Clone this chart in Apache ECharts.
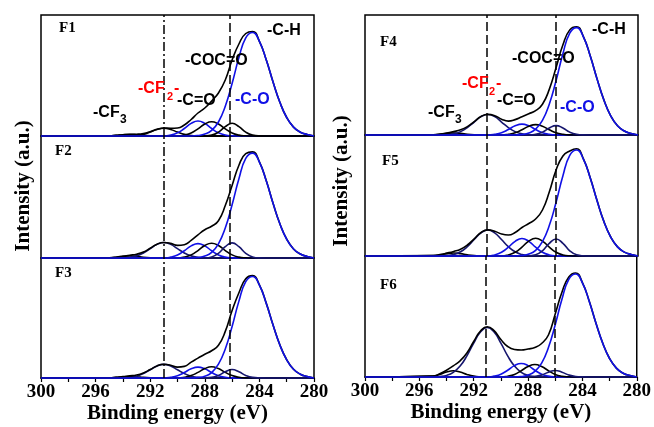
<!DOCTYPE html>
<html><head><meta charset="utf-8">
<script src="https://cdn.jsdelivr.net/npm/echarts@6/dist/echarts.min.js"></script>
<style>html,body{margin:0;padding:0;background:#fff}#c{width:654px;height:427px}</style>
</head><body><div id="c"></div>
<script>
// Binding energy grid (eV)
const energy = [300,295,294.5,294,293.5,293,292.5,292,291.5,291,290.5,290,289.5,289,288.5,288,287.5,287,286.5,286,285.5,285,284.5,284,283.5,283,282.5,282,281.5,281,280.5,280];
const xTicks = [300,296,292,288,284,280];
const panelNames = ['F1','F2','F3','F4','F5','F6'];
const leftRefLines = [291, 286.2];
const rightRefLines = [291.1, 286.0];

// F1
const f1Env = [0,0.2,0.6,1.2,1.6,1.8,2.5,4.3,6.7,8, 7.8,8,11,16.5,23,28,35,43,56,76, 92,102.5,104.5,94.7,76.2,54,33.7,18.5,8.9,3.8, 1.5,0];
const f1CF3 = [0,0.2,0.6,1.2,1.5,1.2,0.6,0.2,0,0, 0,0,0,0,0,0,0,0,0,0, 0,0,0,0,0,0,0,0,0,0, 0,0];
const f1CF2 = [0,0,0,0,0,0.5,1.6,3.9,6.5,7.7, 6.5,3.9,1.6,0.5,0.1,0,0,0,0,0, 0,0,0,0,0,0,0,0,0,0, 0,0];
const f1COC = [0,0,0,0,0,0,0,0,0,0, 0.9,3.2,7.5,12.6,15,12.6,7.5,3.2,0.9,0.2, 0,0,0,0,0,0,0,0,0,0, 0,0];
const f1CdO = [0,0,0,0,0,0,0,0,0,0, 0,0,0.9,3.0,7.2,12.0,14.3,12.0,7.2,3.0, 0.9,0.2,0,0,0,0,0,0,0,0, 0,0];
const f1CO  = [0,0,0,0,0,0,0,0,0,0, 0,0,0,0,0,0.1,0.9,3.9,9.4,12.7, 9.4,3.9,0.9,0.1,0,0,0,0,0,0, 0,0];
const f1CH  = [0,0,0,0,0,0,0,0,0,0, 0,0,0,0,0.5,1.9,5.6,14.0,29.7,52.5, 78.4,98.2,103.5,94.7,76.2,54.0,33.7,18.5,8.9,3.8, 1.5,0];
// F2
const f2Env = [0,0.3,0.8,1.8,2.8,3.8,5.9,9.7,13.7,15.4, 14.5,12.5,13.2,17.5,23,28,31.5,37,52,72, 92,103.5,105.3,95.3,76.8,54.3,34,18.7,9,3.9, 1.5,0];
const f2CF3 = [0,0.3,0.8,1.6,2,1.6,0.8,0.3,0.1,0, 0,0,0,0,0,0,0,0,0,0, 0,0,0,0,0,0,0,0,0,0, 0,0];
const f2CF2 = [0,0,0,0.2,0.7,2.1,5.0,9.3,13.5,15.3, 13.5,9.3,5.0,2.1,0.7,0.2,0,0,0,0, 0,0,0,0,0,0,0,0,0,0, 0,0];
const f2COC = [0,0,0,0,0,0,0,0,0,0, 0.9,3.0,7.2,12.0,14.3,12.0,7.2,3.0,0.9,0.2, 0,0,0,0,0,0,0,0,0,0, 0,0];
const f2CdO = [0,0,0,0,0,0,0,0,0,0, 0,0,0.9,3.1,7.4,12.4,14.7,12.4,7.4,3.1, 0.9,0.2,0,0,0,0,0,0,0,0, 0,0];
const f2CO  = [0,0,0,0,0,0,0,0,0,0, 0,0,0,0,0,0.1,1.1,4.6,11.2,15, 11.2,4.6,1.1,0.1,0,0,0,0,0,0, 0,0];
const f2CH  = [0,0,0,0,0,0,0,0,0,0, 0,0,0,0,0.5,1.9,5.6,14.1,29.8,52.8, 78.7,98.7,104.0,95.1,76.6,54.2,33.9,18.6,9.0,3.9, 1.5,0];
// F3
const f3Env = [0,0.2,0.6,1.4,2.1,3.0,5.1,8.5,12.2,13.8, 12.8,11,11.7,16,20,24,27.5,33,47,68, 86,100,103.2,93.8,75.5,53.5,33.4,18.4,8.8,3.8, 1.4,0];
const f3CF3 = [0,0.2,0.6,1.2,1.5,1.2,0.6,0.2,0,0, 0,0,0,0,0,0,0,0,0,0, 0,0,0,0,0,0,0,0,0,0, 0,0];
const f3CF2 = [0,0,0,0.2,0.6,1.8,4.5,8.3,12.1,13.7, 12.1,8.3,4.5,1.8,0.6,0.2,0,0,0,0, 0,0,0,0,0,0,0,0,0,0, 0,0];
const f3COC = [0,0,0,0,0,0,0,0,0,0, 0.7,2.3,5.5,9.3,11,9.3,5.5,2.3,0.7,0.1, 0,0,0,0,0,0,0,0,0,0, 0,0];
const f3CdO = [0,0,0,0,0,0,0,0,0,0, 0,0,0.7,2.4,5.7,9.5,11.3,9.5,5.7,2.4, 0.7,0.1,0,0,0,0,0,0,0,0, 0,0];
const f3CO  = [0,0,0,0,0,0,0,0,0,0, 0,0,0,0,0,0.1,0.6,2.6,6.3,8.5, 6.3,2.6,0.6,0.1,0,0,0,0,0,0, 0,0];
const f3CH  = [0,0,0,0,0,0,0,0,0,0, 0,0,0,0,0.5,1.8,5.5,13.9,29.3,51.9, 77.5,97.1,102.3,93.6,75.3,53.4,33.3,18.3,8.8,3.8, 1.4,0];
// F4
const f4Env = [0,0.3,0.9,2.1,3.4,5.2,8.5,13.5,18.7,20.8, 19.5,16,14,15.5,18.5,21.5,24.5,31,46,68, 91,106,109.2,99.2,79.8,56.6,35.4,19.4,9.3,4.0, 1.5,0];
const f4CF3 = [0,0.3,0.8,1.6,2,1.6,0.8,0.3,0.1,0, 0,0,0,0,0,0,0,0,0,0, 0,0,0,0,0,0,0,0,0,0, 0,0];
const f4CF2 = [0,0,0.1,0.4,1.2,3.4,7.5,13.1,18.5,20.7, 18.5,13.1,7.5,3.4,1.2,0.4,0.1,0,0,0, 0,0,0,0,0,0,0,0,0,0, 0,0];
const f4COC = [0,0,0,0,0,0,0,0,0,0, 0.7,2.3,5.5,9.3,11,9.3,5.5,2.3,0.7,0.1, 0,0,0,0,0,0,0,0,0,0, 0,0];
const f4CdO = [0,0,0,0,0,0,0,0,0,0, 0,0,0.7,2.2,5.3,8.8,10.5,8.8,5.3,2.2, 0.7,0.1,0,0,0,0,0,0,0,0, 0,0];
const f4CO  = [0,0,0,0,0,0,0,0,0,0, 0,0,0,0,0,0.1,0.7,2.9,7.1,9.5, 7.1,2.9,0.7,0.1,0,0,0,0,0,0, 0,0];
const f4CH  = [0,0,0,0,0,0,0,0,0,0, 0,0,0,0,0.5,2.0,5.9,14.7,31.1,55.0, 82.0,102.7,108.3,99.0,79.7,56.5,35.3,19.3,9.3,4.0, 1.5,0];
// F5
const f5Env = [0,0.5,1.4,2.9,4.6,6.8,11,17.2,23.5,26.1, 24.8,22,21,23.5,28.5,32.5,37,46,64,86, 100,105,107.2,97.1,78.2,55.4,34.6,19,9.1,3.9, 1.5,0];
const f5CF3 = [0,0.4,1.2,2.4,3,2.4,1.2,0.4,0.1,0, 0,0,0,0,0,0,0,0,0,0, 0,0,0,0,0,0,0,0,0,0, 0,0];
const f5CF2 = [0,0,0.1,0.4,1.5,4.2,9.4,16.5,23.2,26, 23.2,16.5,9.4,4.2,1.5,0.4,0.1,0,0,0, 0,0,0,0,0,0,0,0,0,0, 0,0];
const f5COC = [0,0,0,0,0,0,0,0,0,0, 1.1,3.7,8.8,14.7,17.5,14.7,8.8,3.7,1.1,0.2, 0,0,0,0,0,0,0,0,0,0, 0,0];
const f5CdO = [0,0,0,0,0,0,0,0,0,0, 0,0,1.1,3.7,8.9,14.9,17.7,14.9,8.9,3.7, 1.1,0.2,0,0,0,0,0,0,0,0, 0,0];
const f5CO  = [0,0,0,0,0,0,0,0,0,0, 0,0,0,0,0,0.2,1.2,5.2,12.6,17, 12.6,5.2,1.2,0.2,0,0,0,0,0,0, 0,0];
const f5CH  = [0,0,0,0,0,0,0,0,0,0, 0,0,0,0,0.5,1.9,5.7,14.4,30.4,53.8, 80.3,100.6,106.0,96.9,78.0,55.3,34.5,18.9,9.1,3.9, 1.5,0];
// F6
const f6Env = [0,1.0,3.2,6.8,11.2,16.2,24,35.5,46,50.3, 46.3,37.5,30.5,27.5,27,28,29.5,33.5,42,63, 85,100,104,94.4,76,53.8,33.7,18.5,8.9,3.8, 1.4,0];
const f6CF3 = [0,0.9,2.6,5.0,6.3,5.0,2.6,0.9,0.2,0, 0,0,0,0,0,0,0,0,0,0, 0,0,0,0,0,0,0,0,0,0, 0,0];
const f6CF2 = [0,0.1,0.5,1.6,4.7,10.9,21.1,33.9,45,49.5, 45,33.9,21.1,10.9,4.7,1.6,0.5,0.1,0,0, 0,0,0,0,0,0,0,0,0,0, 0,0];
const f6COC = [0,0,0,0,0,0,0,0,0,0, 0.9,2.8,6.8,11.4,13.5,11.4,6.8,2.8,0.9,0.2, 0,0,0,0,0,0,0,0,0,0, 0,0];
const f6CdO = [0,0,0,0,0,0,0,0,0,0, 0,0,0.8,2.6,6.3,10.5,12.5,10.5,6.3,2.6, 0.8,0.2,0,0,0,0,0,0,0,0, 0,0];
const f6CO  = [0,0,0,0,0,0,0,0,0,0, 0,0,0,0,0,0.1,0.5,2.0,4.8,6.5, 4.8,2.0,0.5,0.1,0,0,0,0,0,0, 0,0];
const f6CH  = [0,0,0,0,0,0,0,0,0,0, 0,0,0,0,0.5,1.9,5.6,13.9,29.5,52.3, 78.0,97.7,103.0,94.2,75.8,53.7,33.6,18.4,8.9,3.8, 1.4,0];

const BLACK = '#000000', BLUE = '#1010e6', NAVY = '#16166e';
const SERIF = 'Liberation Serif', SANS = 'Liberation Sans';

const grids = [
  {left: 41, top: 15, width: 273, height: 121},
  {left: 41, top: 136, width: 273, height: 122},
  {left: 41, top: 258, width: 273, height: 120},
  {left: 365, top: 15, width: 273, height: 120},
  {left: 365, top: 135, width: 273, height: 121},
  {left: 365, top: 256, width: 273, height: 121}
];
const panelData = [
  [f1CF3, f1CF2, f1COC, f1CdO, f1CO, f1Env, f1CH],
  [f2CF3, f2CF2, f2COC, f2CdO, f2CO, f2Env, f2CH],
  [f3CF3, f3CF2, f3COC, f3CdO, f3CO, f3Env, f3CH],
  [f4CF3, f4CF2, f4COC, f4CdO, f4CO, f4Env, f4CH],
  [f5CF3, f5CF2, f5COC, f5CdO, f5CO, f5Env, f5CH],
  [f6CF3, f6CF2, f6COC, f6CdO, f6CO, f6Env, f6CH]
];
const compColors = [BLACK, NAVY, BLUE, BLACK, NAVY, BLACK, BLUE];
const compColorsF1 = [BLACK, BLACK, BLUE, BLACK, BLACK, BLACK, BLUE];

const xAxes = [], yAxes = [], series = [];
grids.forEach((g, gi) => {
  const bottom = (gi === 2 || gi === 5);
  xAxes.push({
    gridIndex: gi, type: 'value', min: 280, max: 300, interval: 4, inverse: true,
    axisLine: {show: bottom, lineStyle: {color: BLACK, width: 1.5}},
    axisTick: {show: bottom, inside: false, length: 4, lineStyle: {color: BLACK, width: 1.2}},
    minorTick: {show: bottom, splitNumber: 2, length: 4, lineStyle: {color: BLACK, width: 1.2}},
    axisLabel: {show: bottom, margin: 5, fontFamily: SERIF, fontWeight: 'bold', fontSize: 19, color: BLACK,
      formatter: v => xTicks.indexOf(v) >= 0 ? String(v) : ''},
    splitLine: {show: false},
    name: bottom ? 'Binding energy (eV)' : '', nameLocation: 'middle', nameGap: 22,
    nameTextStyle: {fontFamily: SERIF, fontWeight: 'bold', fontSize: 21, color: BLACK}
  });
  yAxes.push({gridIndex: gi, type: 'value', min: 0, max: 121, show: false});
  const cols = gi === 0 ? compColorsF1 : compColors;
  panelData[gi].forEach((arr, si) => {
    const s = {
      type: 'line', xAxisIndex: gi, yAxisIndex: gi,
      data: energy.map((e, i) => [e, arr[i]]),
      smooth: 0.5, symbol: 'none', clip: false,
      lineStyle: {color: cols[si], width: 1.6}, silent: true, animation: false
    };
    if (si === 0) {
      const refs = gi < 3 ? leftRefLines : rightRefLines;
      s.markLine = {
        symbol: 'none', silent: true, animation: false, label: {show: false},
        data: refs.map((v, k) => ({xAxis: v, lineStyle: {color: BLACK, width: 1.5,
          type: (gi < 3 && k === 0) ? [9, 3, 2, 3] : [9, 4]}}))
      };
    }
    series.push(s);
  });
});

function txt(x, y, s, st) {
  return {type: 'text', x: x, y: y, silent: true, z: 100,
    style: Object.assign({text: s, fontFamily: SANS, fontWeight: 'bold', fontSize: 16, fill: BLACK, align: 'left', verticalAlign: 'middle'}, st || {})};
}
const F = {fontFamily: SERIF, fontWeight: 'bold', fontSize: 15};
const graphic = [
  txt(59, 28, panelNames[0], F), txt(55, 151, panelNames[1], F), txt(55, 273, panelNames[2], F),
  txt(380, 42, panelNames[3], F), txt(382, 161, panelNames[4], F), txt(380, 285, panelNames[5], F),
  // left annotations
  txt(267, 31, '-C-H'), txt(185, 61, '-COC=O'),
  txt(138, 89, '-CF', {fill: '#ff0000'}), txt(167, 97, '2', {fill: '#ff0000', fontSize: 11}), txt(174, 89, '-', {fill: '#ff0000'}),
  txt(177, 101, '-C=O'), txt(235, 100, '-C-O', {fill: BLUE}),
  txt(93, 113, '-CF'), txt(120, 120, '3', {fontSize: 12}),
  // right annotations
  txt(592, 30, '-C-H'), txt(512, 59, '-COC=O'),
  txt(462, 84, '-CF', {fill: '#ff0000'}), txt(489, 92, '2', {fill: '#ff0000', fontSize: 11}), txt(496, 84, '-', {fill: '#ff0000'}),
  txt(497, 101, '-C=O'), txt(560, 108, '-C-O', {fill: BLUE}),
  txt(428, 113, '-CF'), txt(455, 120, '3', {fontSize: 12}),
  // y titles
  {type: 'text', x: 24, y: 186, rotation: Math.PI / 2, silent: true,
    style: {text: 'Intensity (a.u.)', fontFamily: SERIF, fontWeight: 'bold', fontSize: 21, fill: BLACK, align: 'center', verticalAlign: 'middle'}},
  {type: 'text', x: 342, y: 181, rotation: Math.PI / 2, silent: true,
    style: {text: 'Intensity (a.u.)', fontFamily: SERIF, fontWeight: 'bold', fontSize: 21, fill: BLACK, align: 'center', verticalAlign: 'middle'}}
];

const chart = echarts.init(document.getElementById('c'), null, {renderer: 'canvas'});
chart.setOption({
  backgroundColor: '#ffffff',
  animation: false,
  grid: grids.map(g => Object.assign({show: true, borderColor: BLACK, borderWidth: 1.5, backgroundColor: 'transparent'}, g)),
  xAxis: xAxes, yAxis: yAxes, series: series, graphic: graphic
});
</script></body></html>
